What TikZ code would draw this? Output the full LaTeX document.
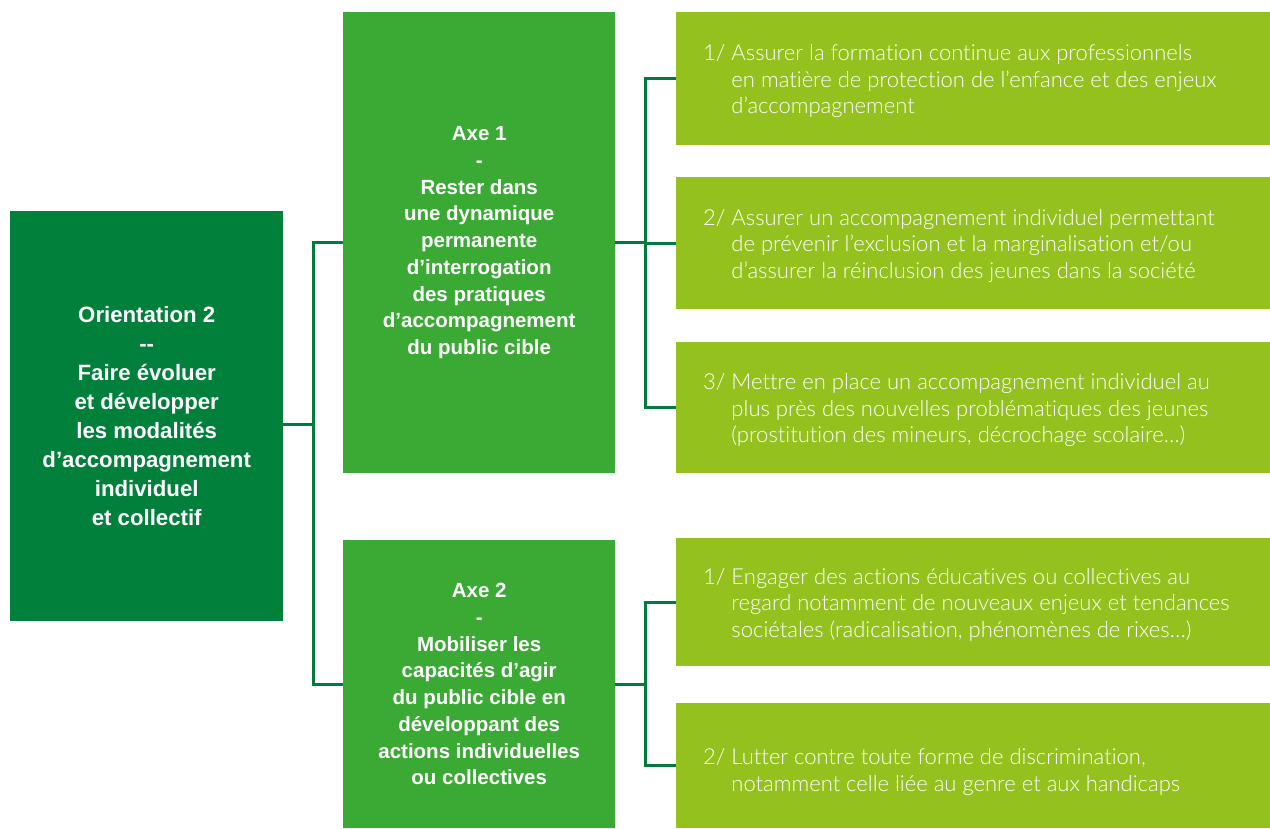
\documentclass[tikz,border=0pt]{standalone}
\usepackage{fontspec}
\setmainfont{Liberation Sans}
\newfontfamily\lightfont{Lato Light}[Ligatures={TeX,NoCommon}]
\definecolor{cDark}{HTML}{00803A}
\definecolor{cMid}{HTML}{3AAA35}
\definecolor{cLime}{HTML}{95C11F}
\definecolor{cLine}{HTML}{007A3D}
\tikzset{
  block/.style={rectangle, inner sep=0pt, anchor=north west, text=white, align=center},
  orient/.style={block, fill=cDark, font=\fontsize{22.2}{29}\selectfont\bfseries},
  axe/.style={block, fill=cMid, font=\fontsize{20.5}{26.7}\selectfont\bfseries},
  action/.style={block, fill=cLime, minimum width=594pt},
  actiontext/.style={inner sep=0pt, anchor=west, text=white, font=\lightfont\fontsize{22}{26.5}\selectfont},
  conn/.style={draw=cLine, line width=3pt}
}
\newcommand{\actionlines}[2]{\begin{tabular}{@{}l@{\ }l@{}}#1 & #2\end{tabular}}
\begin{document}
\begin{tikzpicture}[x=1pt, y=-1pt]
\useasboundingbox (0,0) rectangle (1270,828);

% orientation
\node[orient, minimum width=273pt, minimum height=410pt] (L) at (10,211)
  {Orientation 2\\-{}-\\Faire évoluer\\et développer\\les modalités\\d’accompagnement\\individuel\\et collectif};

% axes
\node[axe, minimum width=272pt, minimum height=461pt] (A1) at (343,12)
  {Axe 1\\-\\Rester dans\\une dynamique\\permanente\\d’interrogation\\des pratiques\\d’accompagnement\\du public cible};
\node[axe, minimum width=272pt, minimum height=288pt] (A2) at (343,540)
  {Axe 2\\-\\Mobiliser les\\capacités d’agir\\du public cible en\\développant des\\actions individuelles\\ou collectives};

% actions
\node[action, minimum height=133pt] (R1) at (676,12) {};
\node[action, minimum height=132pt] (R2) at (676,177) {};
\node[action, minimum height=131pt] (R3) at (676,342) {};
\node[action, minimum height=128pt] (R4) at (676,538) {};
\node[action, minimum height=125pt] (R5) at (676,703) {};

\node[actiontext] (T1) at ([xshift=27pt,yshift=-3pt]R1.west)
  {\actionlines{1/}{Assurer la formation continue aux professionnels\\ & en matière de protection de l’enfance et des enjeux\\ & d’accompagnement}};
\node[actiontext] (T2) at ([xshift=27pt,yshift=-3pt]R2.west)
  {\actionlines{2/}{Assurer un accompagnement individuel permettant\\ & de prévenir l’exclusion et la marginalisation et/ou\\ & d’assurer la réinclusion des jeunes dans la société}};
\node[actiontext] (T3) at ([xshift=27pt,yshift=-3pt]R3.west)
  {\actionlines{3/}{Mettre en place un accompagnement individuel au\\ & plus près des nouvelles problématiques des jeunes\\ & (prostitution des mineurs, décrochage scolaire…)}};
\node[actiontext] (T4) at ([xshift=27pt,yshift=-3pt]R4.west)
  {\actionlines{1/}{Engager des actions éducatives ou collectives au\\ & regard notamment de nouveaux enjeux et tendances\\ & sociétales (radicalisation, phénomènes de rixes…)}};
\node[actiontext] (T5) at ([xshift=27pt,yshift=-7pt]R5.west)
  {\actionlines{2/}{Lutter contre toute forme de discrimination,\\ & notamment celle liée au genre et aux handicaps}};

% connectors
\coordinate (x1) at (645,0);
\coordinate (b0) at (313,424);
\coordinate (b1) at (A1.east -| x1);
\coordinate (b2) at (A2.east -| x1);
\draw[conn] (L.east |- b0) -- (b0);
\draw[conn] (A1.west) -| (b0) |- (A2.west);
\draw[conn] (A1.east) -- (b1);
\draw[conn] (R1.west) -| (b1) |- (R3.west);
\draw[conn] (b1) -- (R2.west -| b1) -- (R2.west);
\draw[conn] (A2.east) -- (b2);
\draw[conn] (R4.west) -| (b2) |- (R5.west);
\end{tikzpicture}
\end{document}
